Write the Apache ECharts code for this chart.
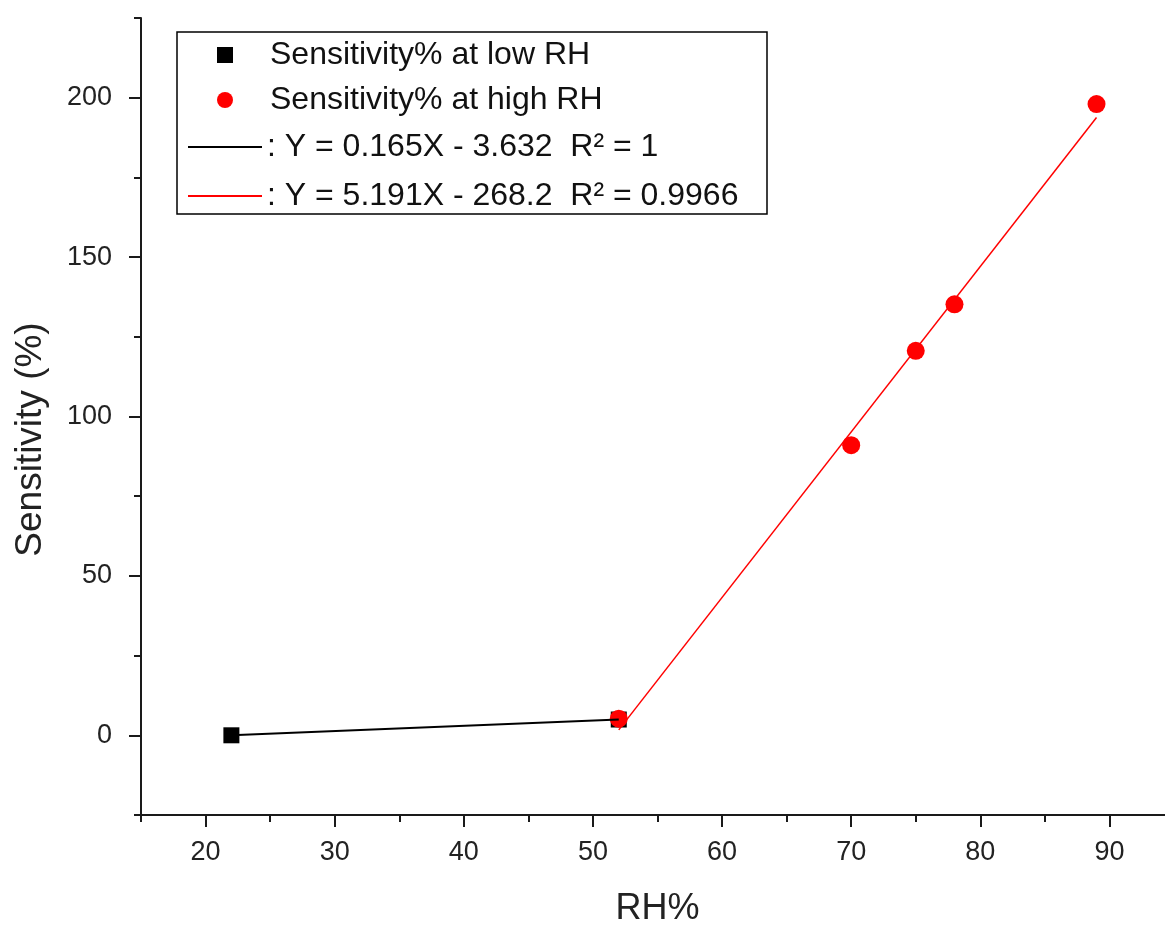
<!DOCTYPE html>
<html>
<head>
    <meta charset="utf-8">
    <title>Sensitivity vs RH</title>
    <script src="https://cdn.jsdelivr.net/npm/echarts@6/dist/echarts.min.js"></script>
    <style>
        *{margin: 0;padding: 0;}
        body{background: #fff;}
    </style>
</head>
<body>
    <div id="main" style="width: 1165px;height:929px;"></div>
    <script type="text/javascript">
        // data
        var lowName = 'Sensitivity% at low RH';
        var highName = 'Sensitivity% at high RH';
        var fitLowName = ': Y = 0.165X - 3.632  R\u00B2 = 1';
        var fitHighName = ': Y = 5.191X - 268.2  R\u00B2 = 0.9966';

        var lowRH = [[22, 0.0], [52, 4.95]];
        var highRH = [[52, 5.2], [70, 91.0], [75, 120.6], [78, 135.2], [89, 198.0]];
        // fitted lines, end points
        var fitLow = [[22, 0.0], [52, 4.95]];
        var fitHigh = [[52, 1.7], [89, 193.8]];

        var xMajor = [20, 30, 40, 50, 60, 70, 80, 90];
        var xMinor = [15, 25, 35, 45, 55, 65, 75, 85, 95];
        var yMajor = [0, 50, 100, 150, 200];
        var yMinor = [-25, 25, 75, 125, 175, 225];

        var axisColor = '#1a1a1a';
        var font = '"Liberation Sans", Arial, sans-serif';

        var myChart = echarts.init(document.getElementById('main'));

        var option = {
            backgroundColor: '#fff',
            animation: false,
            textStyle: {fontFamily: font},
            grid: {left: 141, right: -9, top: 18, bottom: 114, outerBoundsMode: 'none'},
            graphic: [{
                type: 'rect',
                shape: {x: 177, y: 32, width: 590, height: 182},
                style: {fill: '#fff', stroke: '#000', lineWidth: 1.5},
                z: 5
            }],
            legend: [{
                data: [lowName, highName],
                orient: 'vertical',
                left: 212, top: 32,
                itemWidth: 16, itemHeight: 16, itemGap: 9,
                textStyle: {fontSize: 32, color: '#111', fontFamily: font, lineHeight: 36, padding: [0, 0, 0, 32]},
                z: 10
            }, {
                data: [fitLowName, fitHighName],
                orient: 'vertical',
                left: 183, top: 124,
                icon: 'rect',
                itemWidth: 74, itemHeight: 2, itemGap: 13,
                textStyle: {fontSize: 32, color: '#111', fontFamily: font, lineHeight: 36},
                z: 10
            }],
            xAxis: [{
                type: 'value', min: 15, max: 95, position: 'bottom',
                name: 'RH%', nameLocation: 'middle', nameGap: 76,
                nameTextStyle: {fontSize: 36, color: '#222', fontFamily: font},
                axisLine: {onZero: false, lineStyle: {color: axisColor, width: 2}},
                axisTick: {customValues: xMajor, length: 12, lineStyle: {color: axisColor, width: 2}},
                axisLabel: {customValues: xMajor, fontSize: 27, color: '#222', margin: 24, fontFamily: font},
                splitLine: {show: false}
            }, {
                type: 'value', min: 15, max: 95, position: 'bottom',
                axisLine: {show: false, onZero: false},
                axisTick: {customValues: xMinor, length: 7, lineStyle: {color: axisColor, width: 2}},
                axisLabel: {show: false},
                splitLine: {show: false}
            }],
            yAxis: [{
                type: 'value', min: -25, max: 225, position: 'left',
                name: 'Sensitivity (%)', nameLocation: 'middle', nameGap: 92,
                nameTextStyle: {fontSize: 37, color: '#222', fontFamily: font, padding: [0, 46, 0, 0]},
                axisLine: {show: true, onZero: false, lineStyle: {color: axisColor, width: 2}},
                axisTick: {show: true, customValues: yMajor, length: 12, lineStyle: {color: axisColor, width: 2}},
                axisLabel: {customValues: yMajor, fontSize: 27, color: '#222', margin: 29, fontFamily: font},
                splitLine: {show: false}
            }, {
                type: 'value', min: -25, max: 225, position: 'left',
                axisLine: {show: false, onZero: false},
                axisTick: {show: true, customValues: yMinor, length: 7, lineStyle: {color: axisColor, width: 2}},
                axisLabel: {show: false},
                splitLine: {show: false}
            }],
            series: [{
                name: lowName,
                type: 'scatter',
                data: lowRH,
                symbol: 'rect',
                symbolSize: 16,
                itemStyle: {color: '#000', opacity: 1},
                z: 2
            }, {
                name: highName,
                type: 'scatter',
                data: highRH,
                symbol: 'circle',
                symbolSize: 18,
                itemStyle: {color: '#ff0000', opacity: 1},
                z: 3
            }, {
                name: fitHighName,
                type: 'line',
                data: fitHigh,
                symbol: 'none',
                lineStyle: {color: '#ff0000', width: 1.5},
                itemStyle: {color: '#ff0000'},
                z: 4
            }, {
                name: fitLowName,
                type: 'line',
                data: fitLow,
                symbol: 'none',
                lineStyle: {color: '#000', width: 2},
                itemStyle: {color: '#000'},
                z: 4
            }]
        };

        myChart.setOption(option);
    </script>
</body>
</html>
